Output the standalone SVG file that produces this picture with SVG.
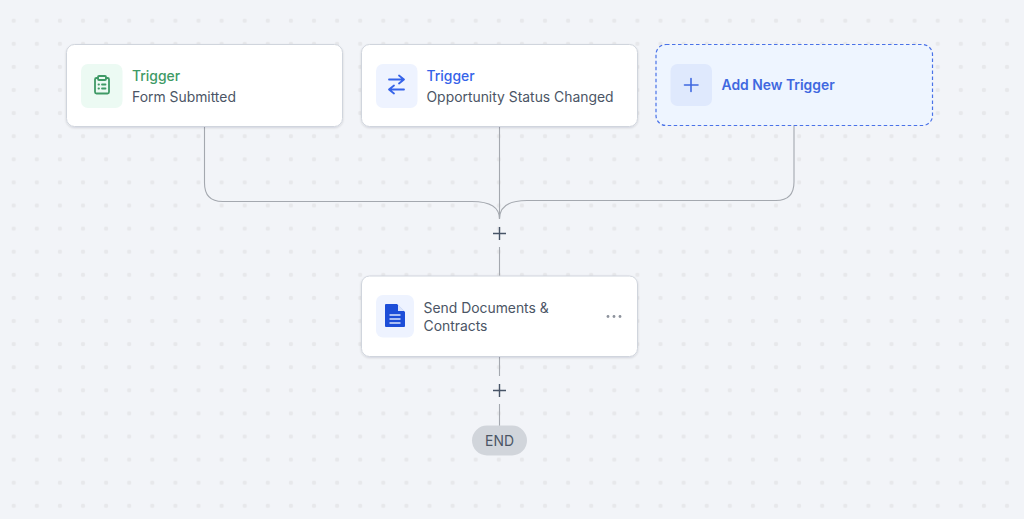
<svg xmlns="http://www.w3.org/2000/svg" width="1024" height="519" viewBox="0 0 1024 519">
<style>
text{font-family:Inter,"Liberation Sans",sans-serif;font-size:13.9px;fill:#4b5565}
.title{font-weight:500}
.card{fill:#fff;stroke:#d0d5dd;stroke-width:1;filter:url(#sh)}
.conn{fill:none;stroke:#a4a8af;stroke-width:1.100}
.plus{fill:none;stroke:#475467;stroke-width:1.400}
</style>
<defs>
<pattern id="dots" x="2.15" y="9.15" width="23.1" height="23.1" patternUnits="userSpaceOnUse"><circle cx="11.55" cy="11.55" r="2.200" fill="#e7e8eb"/></pattern>
<filter id="sh" x="-5%" y="-10%" width="110%" height="125%"><feDropShadow dx="0" dy="1" stdDeviation="1.200" flood-color="#101828" flood-opacity=".14"/></filter>
</defs>
<rect width="1024" height="519" fill="#f2f4f8"/>
<rect width="1024" height="519" fill="url(#dots)"/>
<g id="connectors">
<path class="conn" d="M204.500 127V183Q204.500 201.500 222.500 201.500H472Q499.500 201.500 499.500 219"/>
<path class="conn" d="M499.500 127V219"/>
<path class="conn" d="M794 125V182Q794 200.500 776 200.500H527Q499.500 200.500 499.500 219"/>
<path class="conn" d="M499.500 247V276"/>
<path class="conn" d="M499.500 356V376M499.500 404V426"/>
<path class="plus" d="M493 233.500H506M499.500 227V240"/>
<path class="plus" d="M493 390.500H506M499.500 384V397"/>
</g>
<g id="trigger-form">
<rect class="card" x="66.500" y="44.500" width="276" height="82" rx="8"/>
<rect x="81" y="64" width="41.500" height="44" rx="7" fill="#ecfaf3"/>
<g fill="none" stroke="#3f9a66" stroke-width="1.800" stroke-linecap="round" stroke-linejoin="round">
<path d="M98 78H96.500Q95 78 95 79.500V92Q95 93.500 96.500 93.500H107.500Q109 93.500 109 92V79.500Q109 78 107.500 78H106"/>
<rect x="98" y="76" width="8" height="4" rx="1"/>
<path d="M98.500 84.500H99M102 84.500H105.500M98.500 88.500H99M102 88.500H105.500"/>
</g>
<text x="132" y="81" class="title" style="fill:#3f9a66">Trigger</text>
<text x="132" y="102">Form Submitted</text>
</g>
<g id="trigger-opportunity">
<rect class="card" x="361.500" y="44.500" width="276" height="82" rx="8"/>
<rect x="376" y="64" width="41.500" height="44" rx="7" fill="#eef3ff"/>
<g fill="none" stroke="#3563e9" stroke-width="1.800" stroke-linecap="round" stroke-linejoin="round">
<path d="M389 79.500H404M399 75.500L404 79.500L399 83.500"/>
<path d="M404 89.500H389M394 85.500L389 89.500L394 93.500"/>
</g>
<text x="426.500" y="81" class="title" style="fill:#3563e9">Trigger</text>
<text x="426.500" y="102">Opportunity Status Changed</text>
</g>
<g id="add-trigger">
<rect x="656" y="44.500" width="276.500" height="81" rx="10" fill="#eef5ff" stroke="#4a72e8" stroke-width="1.200" stroke-dasharray="3.500 2.500"/>
<rect x="670.500" y="64" width="41.500" height="42" rx="7" fill="#dfe9fd"/>
<path d="M684.500 85H698M691 78.500V91.500" fill="none" stroke="#3f68e0" stroke-width="1.600" stroke-linecap="round"/>
<text x="721.500" y="90" style="fill:#3f68e0;font-weight:600">Add New Trigger</text>
</g>
<g id="send-documents">
<rect class="card" x="361.500" y="276" width="276" height="80.500" rx="8"/>
<rect x="376" y="295" width="38" height="42.500" rx="7" fill="#eef3ff"/>
<path d="M386 304H397L405 312V326Q405 327 404 327H386Q385 327 385 326V305Q385 304 386 304Z" fill="#1d4ed8"/>
<path d="M398 304.500L404.500 311H398Z" fill="#dbe5fb"/>
<path d="M389.500 315H400.500M389.500 319H400.500M389.500 323H400.500" stroke="#dbe5fb" stroke-width="1.400" fill="none"/>
<text x="423.500" y="312.500">Send Documents &amp;</text>
<text x="423.500" y="330.500">Contracts</text>
<g fill="#8d929c"><circle cx="608" cy="316.500" r="1.400"/><circle cx="614" cy="316.500" r="1.400"/><circle cx="620" cy="316.500" r="1.400"/></g>
</g>
<g id="end">
<rect x="472" y="425.500" width="55" height="30" rx="15" fill="#d1d5db"/>
<text x="499.500" y="445.500" text-anchor="middle">END</text>
</g>
</svg>
